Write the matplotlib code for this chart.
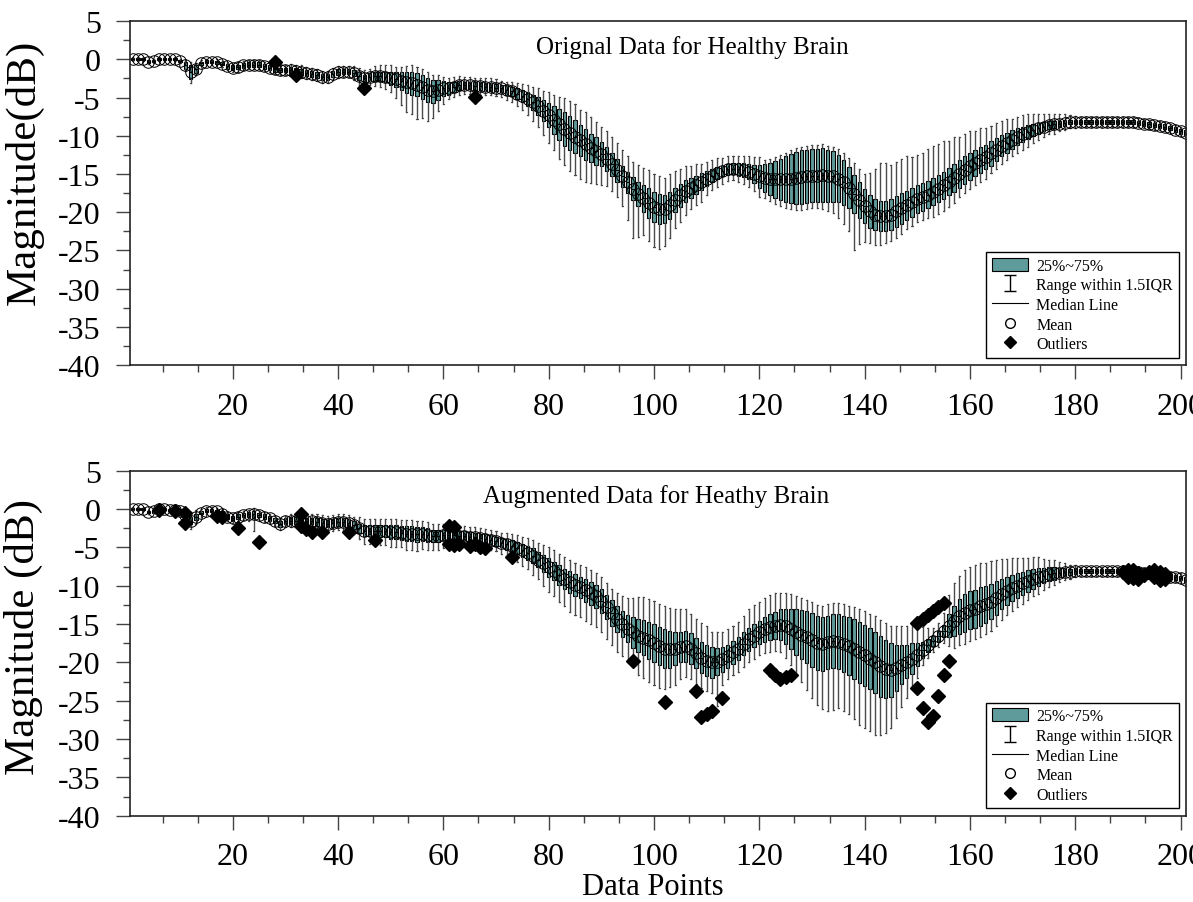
import numpy as np
import matplotlib
matplotlib.use("Agg")
import matplotlib.pyplot as plt
from matplotlib.patches import Patch
from matplotlib.lines import Line2D
from matplotlib.ticker import MultipleLocator

plt.rcParams['font.family'] = ['Liberation Serif', 'DejaVu Serif']
plt.rcParams['axes.unicode_minus'] = False

# ---------------- Top panel: original data ----------------
top_mean = [0.0, 0.0, 0.0, -0.3, -0.2, 0.0, 0.0, 0.0, 0.0, -0.2,
            -0.8, -1.7, -1.3, -0.5, -0.3, -0.3, -0.4, -0.6, -0.9, -1.1,
            -1.0, -0.8, -0.7, -0.7, -0.7, -0.9, -1.1, -1.3, -1.4, -1.4,
            -1.4, -1.5, -1.6, -1.8, -1.9, -2.0, -2.3, -2.3, -1.9, -1.7,
            -1.6, -1.6, -1.8, -2.2, -2.5, -2.3, -2.2, -2.2, -2.3, -2.5,
            -2.6, -2.8, -3.0, -3.1, -3.3, -3.6, -4.0, -4.2, -4.0, -3.8,
            -3.8, -3.6, -3.4, -3.4, -3.4, -3.5, -3.5, -3.6, -3.6, -3.7,
            -3.8, -4.0, -4.2, -4.5, -4.8, -5.2, -5.6, -6.1, -6.7, -7.3,
            -7.9, -8.5, -9.1, -9.6, -10.1, -10.6, -11.1, -11.6, -12.0, -12.4,
            -13.0, -13.7, -14.5, -15.3, -16.1, -16.9, -17.6, -18.2, -18.8, -19.3,
            -19.6, -19.6, -19.1, -18.4, -17.8, -17.2, -16.8, -16.4, -16.0, -15.6,
            -15.2, -14.9, -14.6, -14.4, -14.3, -14.4, -14.5, -14.7, -15.0, -15.3,
            -15.5, -15.6, -15.7, -15.7, -15.7, -15.6, -15.5, -15.4, -15.3, -15.2,
            -15.2, -15.1, -15.2, -15.3, -15.6, -16.1, -16.8, -17.6, -18.4, -19.2,
            -19.9, -20.3, -20.5, -20.5, -20.3, -19.9, -19.5, -19.1, -18.7, -18.3,
            -18.0, -17.7, -17.3, -16.9, -16.5, -16.0, -15.5, -15.0, -14.5, -14.0,
            -13.6, -13.2, -12.8, -12.3, -11.8, -11.3, -10.9, -10.5, -10.1, -9.8,
            -9.5, -9.2, -9.0, -8.8, -8.6, -8.5, -8.4, -8.3, -8.2, -8.2,
            -8.2, -8.2, -8.2, -8.2, -8.2, -8.2, -8.2, -8.2, -8.2, -8.2,
            -8.2, -8.3, -8.4, -8.5, -8.6, -8.7, -8.8, -9.0, -9.2, -9.4,
            -9.6]
top_half_iqr = ([0.15] * 10 +
                [0.4, 0.9, 0.5, 0.2, 0.2, 0.2, 0.2, 0.2, 0.3, 0.3] +
                [0.3] * 10 +
                [0.4] * 10 +
                [0.3, 0.3, 0.4, 0.5, 0.5, 0.5, 0.6, 0.6, 0.7, 0.8] +
                [1.0, 1.2, 1.4, 1.5, 1.5, 1.6, 1.6, 1.5, 1.3, 1.0] +
                [0.8, 0.7, 0.6, 0.5, 0.5, 0.5, 0.5, 0.5, 0.5, 0.5] +
                [0.5, 0.6, 0.6, 0.7, 0.8, 0.9, 1.0, 1.2, 1.4, 1.6] +
                [1.8, 2.0, 2.2, 2.2, 2.2, 2.0, 2.0, 1.8, 1.8, 1.6] +
                [1.6, 1.5, 1.5, 1.4, 1.4, 1.5, 1.6, 1.8, 2.0, 2.0] +
                [2.0, 1.8, 1.8, 1.6, 1.5, 1.4, 1.3, 1.2, 1.1, 1.0] +
                [0.9, 0.8, 0.7, 0.7, 0.7, 0.8, 0.9, 1.0, 1.2, 1.5] +
                [1.8, 2.1, 2.4, 2.7, 3.0, 3.2, 3.4, 3.5, 3.5, 3.5] +
                [3.5, 3.5, 3.4, 3.3, 3.1, 2.9, 2.7, 2.5, 2.3, 2.2] +
                [2.1, 2.0, 2.0, 2.0, 2.0, 2.0, 2.0, 1.9, 1.9, 1.8] +
                [1.8] * 10 +
                [1.7, 1.7, 1.6, 1.6, 1.5, 1.4, 1.3, 1.2, 1.1, 1.0] +
                [0.9, 0.8, 0.7, 0.6, 0.5, 0.5, 0.4, 0.4, 0.3, 0.3] +
                [0.3] * 21)
top_whisk_low = ([0.1] * 10 +
                 [0.3, 0.5, 0.3, 0.2, 0.2, 0.2, 0.2, 0.2, 0.2, 0.2] +
                 [0.3] * 10 +
                 [0.4] * 10 +
                 [0.4, 0.4, 0.5, 0.6, 0.6, 0.6, 0.7, 0.8, 0.9, 1.0] +
                 [1.5, 2.0, 2.5, 2.5, 3.0, 2.5, 2.5, 2.0, 1.5, 1.0] +
                 [0.6] * 10 +
                 [0.6, 0.7, 0.8, 0.9, 1.0, 1.2, 1.4, 1.6, 1.8, 2.0] +
                 [2.2, 2.5, 2.5, 2.8, 2.8, 3.0, 3.0, 2.8, 2.5, 2.5] +
                 [2.0, 2.0, 2.0, 2.5, 3.5, 5.0, 4.0, 3.0, 3.0, 3.2] +
                 [3.2, 3.0, 2.5, 2.0, 2.0, 1.8, 1.5, 1.5, 1.5, 1.2] +
                 [1.0, 1.0, 1.0, 0.8, 0.8, 0.8, 0.9, 1.0, 1.0, 1.2] +
                 [0.8] * 10 +
                 [0.8, 1.0, 1.2, 1.5, 2.0, 2.5, 3.0, 4.8, 3.5, 2.5] +
                 [2.0, 2.0, 1.8, 1.5, 1.5, 1.5, 1.3, 1.2, 1.2, 1.2] +
                 [1.2, 1.2, 1.5, 1.5, 1.5, 1.5, 1.5, 1.2, 1.2, 1.2] +
                 [1.2, 1.2, 1.2, 1.0, 1.0, 1.0, 1.0, 1.0, 1.0, 1.0] +
                 [1.0, 0.9, 0.8, 0.8, 0.7, 0.7, 0.6, 0.6, 0.5, 0.5] +
                 [0.3] * 21)
top_whisk_high = ([0.1] * 10 +
                  [0.3, 0.5, 0.3, 0.2, 0.2, 0.2, 0.2, 0.2, 0.2, 0.2] +
                  [0.3] * 10 +
                  [0.4] * 10 +
                  [0.4, 0.4, 0.5, 0.6, 0.6, 0.6, 0.7, 0.8, 0.9, 1.0] +
                  [0.6, 0.6, 0.7, 0.8, 0.8, 0.7, 0.7, 0.6, 0.6, 0.5] +
                  [0.6] * 10 +
                  [0.5, 0.5, 0.6, 0.7, 0.8, 1.0, 1.0, 1.2, 1.2, 1.4] +
                  [1.5, 1.6, 1.8, 2.0, 2.0, 2.0, 2.2, 2.2, 2.0, 2.0] +
                  [2.0, 2.0, 2.0, 2.0, 2.0, 2.0, 2.2, 2.2, 2.3, 2.3] +
                  [2.3, 2.3, 2.3, 2.2, 2.0, 1.8, 1.5, 1.5, 1.2, 1.2] +
                  [1.2, 1.2, 1.0, 1.0, 1.0, 1.0, 1.0, 1.0, 1.0, 1.0] +
                  [0.5] * 10 +
                  [0.5, 0.5, 0.5, 0.5, 0.8, 1.0, 1.2, 1.5, 1.8, 2.0] +
                  [3.0, 4.0, 5.0, 5.0, 4.5, 4.5, 4.5, 4.5, 4.0, 4.0] +
                  [4.0, 4.2, 4.2, 4.0, 4.0, 3.5, 3.5, 3.0, 3.0, 2.8] +
                  [2.5, 2.5, 2.2, 2.0, 2.0, 1.8, 1.8, 1.5, 1.5, 1.5] +
                  [1.4, 1.3, 1.2, 1.1, 1.0, 0.9, 0.8, 0.7, 0.6, 0.5] +
                  [0.3] * 21)
top_out_x = [28, 32, 45, 66]
top_out_y = [-0.4, -2.0, -3.7, -4.9]

# ---------------- Bottom panel: augmented data ----------------
bot_mean = [0.0, 0.0, 0.0, -0.4, -0.3, 0.0, 0.0, -0.1, -0.1, -0.3,
            -0.8, -1.5, -1.0, -0.5, -0.2, -0.2, -0.3, -0.6, -1.0, -1.2,
            -1.0, -0.8, -0.7, -0.7, -0.8, -1.0, -1.2, -1.5, -1.9, -1.6,
            -1.5, -1.5, -1.6, -1.6, -1.6, -1.7, -1.8, -1.9, -1.8, -1.7,
            -1.7, -1.8, -2.1, -2.5, -2.8, -2.8, -2.8, -2.9, -2.9, -3.0,
            -3.0, -3.1, -3.2, -3.2, -3.3, -3.3, -3.4, -3.5, -3.5, -3.4,
            -3.4, -3.4, -3.5, -3.5, -3.6, -3.7, -3.8, -3.9, -4.0, -4.2,
            -4.4, -4.6, -4.8, -5.1, -5.4, -5.7, -6.1, -6.6, -7.1, -7.6,
            -8.1, -8.6, -9.1, -9.5, -9.9, -10.2, -10.6, -11.0, -11.4, -12.0,
            -12.8, -13.6, -14.4, -15.0, -15.6, -16.1, -16.5, -16.8, -17.1, -17.5,
            -17.9, -18.2, -18.3, -18.2, -18.0, -17.9, -18.2, -18.8, -19.4, -19.8,
            -20.0, -19.9, -19.6, -19.2, -18.7, -18.2, -17.6, -17.0, -16.5, -16.1,
            -15.7, -15.4, -15.2, -15.1, -15.3, -15.7, -16.1, -16.4, -16.7, -17.1,
            -17.5, -17.6, -17.4, -17.2, -17.3, -17.6, -17.9, -18.3, -18.7, -19.1,
            -19.5, -20.0, -20.5, -20.9, -21.0, -20.7, -20.3, -19.9, -19.5, -19.0,
            -18.4, -17.8, -17.2, -16.6, -15.9, -15.2, -14.6, -14.0, -13.6, -13.2,
            -13.0, -12.7, -12.4, -12.1, -11.6, -11.1, -10.7, -10.3, -10.0, -9.7,
            -9.4, -9.1, -8.9, -8.7, -8.5, -8.4, -8.3, -8.2, -8.2, -8.1,
            -8.1, -8.1, -8.1, -8.1, -8.1, -8.1, -8.1, -8.1, -8.1, -8.1,
            -8.2, -8.2, -8.3, -8.4, -8.5, -8.6, -8.7, -8.8, -8.9, -9.0,
            -9.2]
bot_half_iqr = ([0.15] * 10 +
                [0.4, 0.5, 0.4, 0.2, 0.2, 0.2, 0.2, 0.3, 0.3, 0.3] +
                [0.3, 0.3, 0.3, 0.5, 0.3, 0.3, 0.3, 0.3, 0.4, 0.4] +
                [0.4, 0.4, 0.4, 0.4, 0.4, 0.5, 0.5, 0.5, 0.5, 0.5] +
                [0.5, 0.5, 0.5, 0.6, 0.7, 0.7, 0.7, 0.8, 0.8, 0.9] +
                [0.9, 0.9, 1.0, 1.0, 1.0, 0.9, 0.9, 0.8, 0.8, 0.7] +
                [0.6] * 10 +
                [0.6, 0.7, 0.7, 0.8, 0.8, 0.9, 1.0, 1.0, 1.1, 1.2] +
                [1.2, 1.3, 1.3, 1.4, 1.4, 1.4, 1.5, 1.5, 1.5, 1.6] +
                [1.6, 1.7, 1.7, 1.7, 1.8, 2.0, 2.2, 2.3, 2.4, 2.5] +
                [2.5, 2.5, 2.4, 2.2, 2.0, 2.0, 2.0, 2.0, 2.0, 2.0] +
                [2.0, 1.8, 1.6, 1.5, 1.5, 1.5, 1.5, 1.5, 1.5, 1.5] +
                [1.6, 1.7, 1.8, 2.0, 2.3, 2.6, 3.0, 3.2, 3.4, 3.5] +
                [3.5, 3.5, 3.5, 3.5, 3.6, 3.7, 3.8, 3.9, 4.0, 4.0] +
                [4.0, 4.0, 4.0, 3.8, 3.5, 3.0, 2.5, 2.2, 2.0, 1.5] +
                [1.0, 0.8, 0.7, 0.7, 0.8, 1.5, 2.0, 2.3, 2.5, 2.5] +
                [2.5, 2.5, 2.4, 2.3, 2.2, 2.0, 1.8, 1.7, 1.6, 1.5] +
                [1.4, 1.3, 1.2, 1.0, 0.9, 0.8, 0.6, 0.5, 0.4, 0.4] +
                [0.3] * 21)
bot_whisk_low = ([0.1] * 10 +
                 [0.5, 0.6, 0.5, 0.3, 0.3, 0.3, 0.3, 0.3, 0.3, 0.3] +
                 [0.3, 0.3, 0.5, 1.6, 0.5, 0.4, 0.4, 0.4, 0.4, 0.4] +
                 [0.5] * 10 +
                 [0.5, 0.5, 0.6, 0.8, 1.0, 1.0, 1.0, 1.0, 1.0, 1.0] +
                 [1.0, 1.0, 1.2, 1.2, 1.2, 1.0, 1.0, 1.0, 1.0, 1.0] +
                 [0.7] * 10 +
                 [0.8, 0.8, 1.0, 1.0, 1.2, 1.2, 1.5, 1.5, 1.8, 2.0] +
                 [2.0, 2.2, 2.2, 2.5, 2.5, 2.5, 2.5, 2.5, 2.5, 2.5] +
                 [2.5, 2.5, 2.5, 2.5, 2.5, 2.5, 3.0, 3.0, 3.0, 3.0] +
                 [3.0, 2.8, 2.5, 2.5, 2.2, 2.0, 2.0, 2.0, 2.0, 2.0] +
                 [2.0, 4.0, 1.8, 1.5, 1.5, 1.5, 1.5, 1.5, 1.5, 1.5] +
                 [1.5, 1.5, 1.5, 1.5, 1.8, 2.0, 2.5, 3.0, 3.5, 4.0] +
                 [4.5, 5.0, 5.5, 5.5, 5.0, 5.0, 5.0, 5.2, 5.5, 5.5] +
                 [5.5, 5.5, 5.0, 4.5, 4.0, 3.5, 3.0, 2.5, 2.0, 1.5] +
                 [1.0, 0.8, 0.7, 0.7, 0.8, 1.2, 1.5, 1.5, 1.5, 1.5] +
                 [1.5, 1.5, 1.5, 1.5, 1.4, 1.4, 1.3, 1.3, 1.2, 1.2] +
                 [1.1, 1.0, 1.0, 0.9, 0.8, 0.7, 0.6, 0.5, 0.5, 0.4] +
                 [0.3] * 21)
bot_whisk_high = ([0.1] * 10 +
                  [0.5, 0.6, 0.5, 0.3, 0.3, 0.3, 0.3, 0.3, 0.3, 0.3] +
                  [0.3] * 10 +
                  [0.5] * 10 +
                  [0.5, 0.5, 0.6, 0.8, 0.8, 0.8, 0.8, 0.8, 0.8, 0.8] +
                  [0.8] * 10 +
                  [0.7] * 10 +
                  [0.7, 0.8, 0.8, 0.9, 1.0, 1.0, 1.1, 1.2, 1.3, 1.4] +
                  [1.5] * 10 +
                  [1.5, 1.5, 1.8, 2.0, 2.2, 2.5, 2.8, 3.0, 3.0, 3.0] +
                  [3.0, 3.0, 3.0, 3.0, 3.0, 2.8, 2.5, 2.5, 2.5, 2.5] +
                  [2.0, 2.0, 2.0, 2.0, 2.0, 2.0, 2.2, 2.5, 2.5, 2.5] +
                  [2.5, 2.5, 2.5, 2.2, 2.0, 2.0, 1.8, 1.6, 1.5, 1.5] +
                  [1.5, 1.5, 1.5, 1.5, 1.5, 1.5, 1.5, 1.6, 1.7, 1.8] +
                  [1.8, 2.0, 2.0, 2.2, 2.2, 2.5, 2.5, 2.5, 2.5, 2.5] +
                  [2.0, 1.5, 1.0, 1.0, 1.5, 2.5, 3.0, 3.0, 3.2, 3.2] +
                  [3.2, 3.2, 3.0, 3.0, 2.8, 2.6, 2.4, 2.2, 2.0, 1.8] +
                  [1.6, 1.5, 1.4, 1.2, 1.0, 0.9, 0.8, 0.6, 0.5, 0.4] +
                  [0.3] * 21)
bot_out_x = [6, 9, 11, 11, 17, 18, 21, 25, 33, 33, 34, 35, 37, 42, 47,
             61, 62, 61, 62, 63, 65, 66, 67, 68, 73,
             96, 102, 108, 109, 110, 111, 113,
             122, 123, 124, 125, 126,
             150, 151, 152, 153, 154, 155,
             150, 151, 152, 153, 154, 155, 156,
             189, 190, 190, 191, 191, 192, 192, 193, 194, 195, 195, 196, 196, 197, 197]
bot_out_y = [-0.1, -0.2, -0.5, -1.8, -0.9, -1.1, -2.5, -4.3, -0.7, -2.2, -2.6, -3.0, -3.0, -3.0, -4.0,
             -2.2, -2.3, -4.6, -4.7, -4.6, -4.8, -4.6, -5.0, -5.1, -6.3,
             -19.8, -25.2, -23.8, -27.1, -26.8, -26.4, -24.6,
             -21.0, -21.6, -22.2, -21.9, -21.6,
             -14.9, -14.3, -13.8, -13.3, -12.8, -12.3,
             -23.4, -25.9, -27.8, -27.0, -24.4, -21.7, -19.8,
             -8.2, -7.9, -8.8, -8.0, -9.0, -8.3, -9.1, -8.6, -8.2, -7.9, -8.9, -8.2, -9.3, -8.5, -9.1]

titles = ["Orignal Data for Healthy Brain", "Augmented Data for Heathy Brain"]
ylabels = ["Magnitude(dB)", "Magnitude (dB)"]
legend_labels = ["25%~75%", "Range within 1.5IQR", "Median Line", "Mean", "Outliers"]

BOX_COLOR = "#5F9B9A"

fig = plt.figure(figsize=(11.93, 9.03), dpi=100)
ax_top = fig.add_axes([0.109, 0.5945, 0.885, 0.381])
ax_bot = fig.add_axes([0.109, 0.0956, 0.885, 0.382])


def draw_panel(ax, mean, half, wl, wh, ox, oy, title, ylabel, title_x, label_y):
    n = len(mean)
    pos = np.arange(1, n + 1)
    stats = []
    for i in range(n):
        q1 = mean[i] - half[i]
        q3 = mean[i] + half[i]
        stats.append(dict(med=mean[i], q1=q1, q3=q3,
                          whislo=q1 - wl[i], whishi=q3 + wh[i],
                          mean=mean[i], fliers=[]))
    ax.bxp(stats, positions=pos, widths=0.65, patch_artist=True,
           showmeans=True, showfliers=False, manage_ticks=False,
           boxprops=dict(facecolor=BOX_COLOR, edgecolor='black', linewidth=0.8),
           whiskerprops=dict(color='#4a4a4a', linewidth=1.0),
           capprops=dict(color='#4a4a4a', linewidth=0.8),
           capwidths=0.2,
           medianprops=dict(color='black', linewidth=0.8),
           meanprops=dict(marker='o', markerfacecolor='none',
                          markeredgecolor='black', markersize=8.3,
                          markeredgewidth=0.7),
           zorder=2)
    ax.plot(ox, oy, linestyle='none', marker='D', color='black',
            markersize=6.8, zorder=4)

    ax.set_xlim(0.5, 201)
    ax.set_ylim(-40, 5)
    ax.xaxis.set_major_locator(MultipleLocator(20))
    ax.xaxis.set_minor_locator(MultipleLocator(20 / 3))
    ax.yaxis.set_major_locator(MultipleLocator(5))
    ax.yaxis.set_minor_locator(MultipleLocator(2.5))
    ax.tick_params(axis='both', which='major', direction='out', length=10,
                   width=1.0, labelsize=23, color='#444444')
    ax.tick_params(axis='x', which='major', pad=9)
    ax.tick_params(axis='y', which='major', pad=11)
    ax.tick_params(axis='both', which='minor', direction='out', length=5,
                   width=1.0, color='#444444')
    ax.set_xticks([20, 40, 60, 80, 100, 120, 140, 160, 180, 200])
    for s in ax.spines.values():
        s.set_linewidth(1.2)
        s.set_color('#222222')

    ax.text(title_x, 0.927, title, transform=ax.transAxes, ha='center',
            va='center', fontsize=18)
    ax.set_ylabel(ylabel, fontsize=31)
    ax.yaxis.set_label_coords(-0.082, label_y)

    handles = [
        Patch(facecolor=BOX_COLOR, edgecolor='black', linewidth=0.8),
        ax.errorbar([np.nan], [np.nan], yerr=[1], fmt='none', ecolor='black',
                    elinewidth=1, capsize=4),
        Line2D([], [], color='black', linewidth=0.8),
        Line2D([], [], linestyle='none', marker='o', markerfacecolor='white',
               markeredgecolor='black', markersize=7),
        Line2D([], [], linestyle='none', marker='D', color='black', markersize=6.5),
    ]
    leg = ax.legend(handles, legend_labels, loc='lower right', fontsize=11.5,
                    frameon=True, fancybox=False, edgecolor='black',
                    framealpha=1, handlelength=2.3, handleheight=0.9,
                    labelspacing=0.22, borderaxespad=0.45, borderpad=0.35,
                    handletextpad=0.5)
    leg.get_frame().set_linewidth(1.0)


draw_panel(ax_top, top_mean, top_half_iqr, top_whisk_low, top_whisk_high,
           top_out_x, top_out_y, titles[0], ylabels[0], 0.533, 0.564)
draw_panel(ax_bot, bot_mean, bot_half_iqr, bot_whisk_low, bot_whisk_high,
           bot_out_x, bot_out_y, titles[1], ylabels[1], 0.498, 0.521)

fig.text(653 / 1193, 1 - 888 / 903, "Data Points", ha='center', va='center',
         fontsize=22)

fig.savefig("out.png", dpi=100)
